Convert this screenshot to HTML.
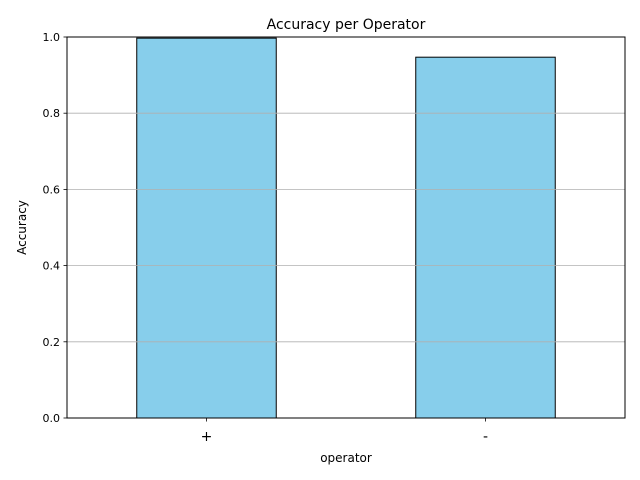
<!DOCTYPE html>
<html><head><meta charset="utf-8"><style>body{margin:0;background:#fff}svg{display:block;font-family:"DejaVu Sans","Liberation Sans",sans-serif}</style></head>
<body>
<svg id="c" width="640" height="480"></svg>
<script>
const categories = ["+", "-"];
const values = [0.997, 0.947];
const yTicks = [0.0, 0.2, 0.4, 0.6, 0.8, 1.0];
const tickLabels = ["0.0", "0.2", "0.4", "0.6", "0.8", "1.0"];

const svg = document.getElementById('c');
const NS = 'http://www.w3.org/2000/svg';
const L = 67, R = 625, T = 37, B = 418;
const y = v => B - v * (B - T);
const step = (R - L) / categories.length;
const x = i => L + step * (i + 0.5);
const bw = step * 0.5;
function mk(tag, attrs, text) {
  const e = document.createElementNS(NS, tag);
  for (const k in attrs) e.setAttribute(k, attrs[k]);
  if (text !== undefined) e.textContent = text;
  svg.appendChild(e);
  return e;
}
let e;
categories.forEach((c, i) => {
  e = mk('rect', {x: x(i) - bw / 2, y: y(values[i]), width: bw, height: B - y(values[i]), fill: '#87ceeb', stroke: '#000', 'stroke-width': 1});
  
  
  e = mk('line', {x1: x(i), x2: x(i), y1: B, y2: B + 3.5, stroke: '#000', 'stroke-width': 0.8});
  
  
  e = mk('text', {x: x(i), y: B + 23, 'text-anchor': 'middle', 'font-size': 14}, c);
  
  
});
yTicks.forEach((t, i) => {
  if (t > 0 && t < 1) {
    e = mk('line', {x1: L, x2: R, y1: y(t), y2: y(t), stroke: '#b0b0b0', 'stroke-width': 0.8});
    
    
  }
  e = mk('line', {x1: L - 3.5, x2: L, y1: y(t), y2: y(t), stroke: '#000', 'stroke-width': 0.8});
  
  
  e = mk('text', {x: L - 7, y: y(t) + 4, 'text-anchor': 'end', 'font-size': 11}, tickLabels[i]);
  
  
});
e = mk('rect', {x: L, y: T, width: R - L, height: B - T, fill: 'none', stroke: '#000', 'stroke-width': 1});


e = mk('text', {x: (L + R) / 2, y: 29, 'text-anchor': 'middle', 'font-size': 14}, 'Accuracy per Operator');


e = mk('text', {x: (L + R) / 2, y: 462, 'text-anchor': 'middle', 'font-size': 12}, 'operator');


e = mk('text', {x: 26, y: (T + B) / 2, 'text-anchor': 'middle', 'font-size': 12, transform: 'rotate(-90 26 ' + (T + B) / 2 + ')'}, 'Accuracy');


</script>
</body></html>
